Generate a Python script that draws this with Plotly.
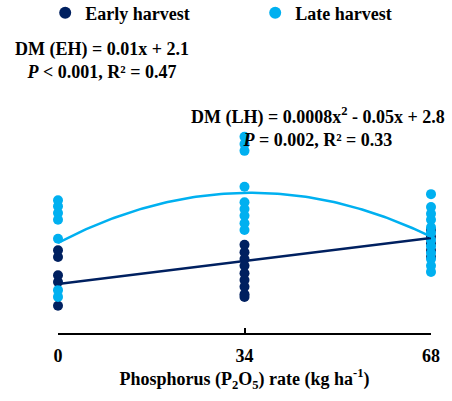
import numpy as np
import plotly.graph_objects as go

# Phosphorus rates (kg P2O5 ha-1)
rates = [0, 34, 68]

# Dry matter observations per rate
eh_dm = {
    0: [2.60, 2.50, 2.23, 2.13, 1.78],
    34: [2.68, 2.57, 2.47, 2.37, 2.26, 2.16, 2.06, 1.95, 1.91],
    68: [2.90, 2.80, 2.70, 2.60, 2.50],
}
lh_dm = {
    0: [3.34, 3.25, 3.15, 3.05, 2.77, 2.01, 1.91],
    34: [4.28, 4.17, 4.07, 3.54, 3.31, 3.21, 3.11, 3.00, 2.90],
    68: [3.43, 3.24, 3.14, 3.05, 2.94, 2.86, 2.75, 2.66, 2.56, 2.47, 2.37, 2.28],
}

# Regression coefficients (a*x^2 + b*x + c)
eh_coef = [0.0, 0.01, 2.1]
lh_coef = [-0.000601, 0.0422, 2.71]

DARK = "#002060"
LIGHT = "#00B0F0"
FONT = "Liberation Serif"


def flatten(d):
    xs, ys = [], []
    for r in rates:
        xs += [r] * len(d[r])
        ys += d[r]
    return xs, ys


fig = go.Figure()

ex, ey = flatten(eh_dm)
lx, ly = flatten(lh_dm)

fig.add_trace(go.Scatter(x=ex, y=ey, mode="markers", name="Early harvest",
                         marker=dict(color=DARK, size=10), cliponaxis=False,
                         legendwidth=165))
fig.add_trace(go.Scatter(x=lx, y=ly, mode="markers", name="Late harvest",
                         marker=dict(color=LIGHT, size=10), cliponaxis=False))

xs = np.linspace(0, 68, 120)
fig.add_trace(go.Scatter(x=xs, y=np.polyval(eh_coef, xs), mode="lines",
                         line=dict(color=DARK, width=2.5), showlegend=False,
                         cliponaxis=False))
fig.add_trace(go.Scatter(x=xs, y=np.polyval(lh_coef, xs), mode="lines",
                         line=dict(color=LIGHT, width=2.5), showlegend=False,
                         cliponaxis=False))

fig.add_annotation(x=0.117, y=1.0, xref="paper", yref="paper", showarrow=False,
                   xanchor="center", yanchor="middle", align="center",
                   text="<b>DM (EH) = 0.01x + 2.1<br><i>P</i> < 0.001, R² = 0.47</b>",
                   font=dict(family=FONT, size=18, color="black"))
fig.add_annotation(x=0.698, y=0.753, xref="paper", yref="paper", showarrow=False,
                   xanchor="center", yanchor="middle", align="center",
                   text="<b>DM (LH) = 0.0008x<sup>2</sup> - 0.05x + 2.8<br><i>P</i> = 0.002, R² = 0.33</b>",
                   font=dict(family=FONT, size=18, color="black"))

fig.update_xaxes(range=[0, 68], tickvals=rates, ticktext=[str(r) for r in rates],
                 showline=True, linecolor="black", linewidth=1.5,
                 ticks="inside", ticklen=5, tickwidth=1.5, tickcolor="black",
                 showgrid=False, zeroline=False, ticklabelstandoff=6,
                 tickfont=dict(family=FONT, size=18, color="black", weight="bold"),
                 title=dict(text="<b>Phosphorus (P<sub>2</sub>O<sub>5</sub>) rate (kg ha<sup>-1</sup>)</b>",
                            font=dict(family=FONT, size=18, color="black"), standoff=6))
fig.update_yaxes(range=[1.376, 5.414], visible=False)

fig.update_layout(
    width=452, height=401,
    font=dict(family=FONT, size=18, color="black"),
    margin=dict(l=58, r=17, t=60, b=68),
    plot_bgcolor="white", paper_bgcolor="white",
    legend=dict(orientation="h", xref="container", yref="container",
                x=0.10, y=0.9676, xanchor="left", yanchor="middle",
                font=dict(family=FONT, size=18, color="black", weight="bold"),
                itemsizing="constant"),
)

fig.write_html("out.html")
